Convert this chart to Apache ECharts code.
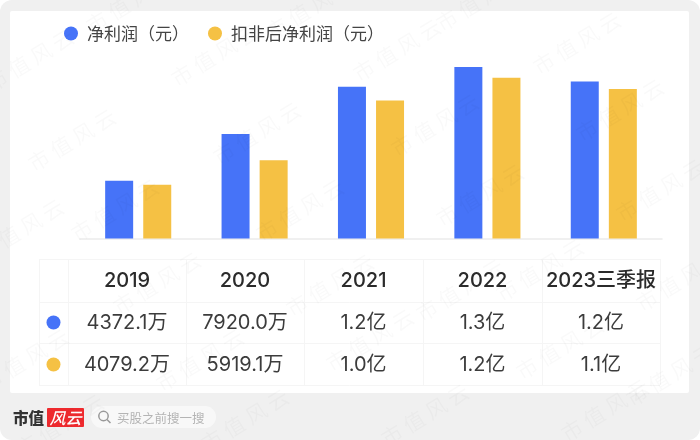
<!DOCTYPE html>
<html><head><meta charset="utf-8">
<style>html,body{margin:0;padding:0;background:#fff}#c{width:700px;height:440px}</style>
<script src="https://cdn.jsdelivr.net/npm/echarts@6/dist/echarts.min.js"></script>
</head><body><div id="c"></div>
<script>
const categories = ['2019','2020','2021','2022','2023三季报'];
const netProfitName = '净利润（元）';
const adjustedName = '扣非后净利润（元）';
const netProfit = [4372.1, 7920.0, 11500, 13000, 11900];
const adjustedProfit = [4079.2, 5919.1, 10460, 12170, 11330];
const netProfitLabels = ['4372.1万','7920.0万','1.2亿','1.3亿','1.2亿'];
const adjustedLabels = ['4079.2万','5919.1万','1.0亿','1.2亿','1.1亿'];
const watermarkText = '市 值 风 云';
const watermarkSpots = [[72,140],[215,55],[115,210],[257,133],[300,210],[397,50],[577,43],[435,125],[620,110],[480,195],[660,190],[130,2],[310,8],[480,0],[30,60],[157,283],[330,285],[25,360],[200,360],[560,348],[370,340],[540,270],[680,280],[425,415],[605,410],[245,420],[60,425],[20,230],[460,290],[670,375]];

const BLUE='#4673f8', YELLOW='#f5c144', FONT='Inter, "Noto Sans CJK SC", sans-serif', CJK='"Noto Sans CJK SC", sans-serif';
const colX=[39,68,186,304,423,542,660], rowY=[259,302,343,385];
const g=[];
g.push({type:'rect',z:-10,shape:{x:0,y:0,width:700,height:440,r:12},style:{fill:'#f0f0f0'}});
g.push({type:'rect',z:-9,shape:{x:10,y:11,width:679,height:382,r:2},style:{fill:'#fff'}});
const lc='#f5f5f5';
colX.forEach(x=>g.push({type:'line',z:1,shape:{x1:x+.5,y1:rowY[0],x2:x+.5,y2:rowY[3]},style:{stroke:lc,lineWidth:1}}));
rowY.forEach(y=>g.push({type:'line',z:1,shape:{x1:colX[0],y1:y+.5,x2:colX[6],y2:y+.5},style:{stroke:lc,lineWidth:1}}));
const cx=i=>(colX[i+1]+colX[i+2])/2;
categories.forEach((t,i)=>g.push({type:'text',z:2,style:{x:cx(i),y:281,text:t,align:'center',verticalAlign:'middle',font:'500 20px '+FONT,fill:'#2b2b2b'}}));
[[netProfitLabels,323,BLUE],[adjustedLabels,365,YELLOW]].forEach(([arr,y,col])=>{
  g.push({type:'circle',z:2,shape:{cx:53.5,cy:y-0.5,r:7},style:{fill:col}});
  arr.forEach((t,i)=>g.push({type:'text',z:2,style:{x:cx(i),y:y,text:t,align:'center',verticalAlign:'middle',font:'400 20px '+FONT,fill:'#3c3c3c'}}));
});
g.push({type:'text',z:2,style:{x:13,y:418,text:'市值',align:'left',verticalAlign:'middle',font:'900 15.5px '+CJK,fill:'#333'}});
g.push({type:'rect',z:2,shape:{x:47,y:408,width:37,height:19,r:1},style:{fill:'#ee2a2e'}});
g.push({type:'text',z:3,style:{x:65.5,y:417.5,text:'风云',align:'center',verticalAlign:'middle',font:'italic 500 16px '+CJK,fill:'#fff'}});
g.push({type:'rect',z:2,shape:{x:91,y:406,width:125,height:22,r:11},style:{fill:'#f8f8f8'}});
g.push({type:'circle',z:3,shape:{cx:103.5,cy:416,r:4.7},style:{fill:'none',stroke:'#999',lineWidth:1.5}});
g.push({type:'line',z:3,shape:{x1:107,y1:419.5,x2:110.5,y2:423},style:{stroke:'#999',lineWidth:1.5}});
g.push({type:'text',z:3,style:{x:117,y:418,text:'买股之前搜一搜',align:'left',verticalAlign:'middle',font:'400 12.5px '+CJK,fill:'#b4b4b4'}});
watermarkSpots.forEach(([x,y])=>g.push({type:'text',z:50,silent:true,x:x,y:y,rotation:0.55,style:{x:0,y:0,text:watermarkText,align:'center',verticalAlign:'middle',font:'400 21px '+CJK,fill:'rgba(0,0,0,0.022)'}}));

const chart=echarts.init(document.getElementById('c'),null,{renderer:'canvas'});
chart.setOption({
  animation:false,
  graphic:g,
  legend:{left:59,top:20,itemWidth:14,itemHeight:14,itemGap:19,icon:'circle',
    textStyle:{fontFamily:CJK,fontSize:17,color:'#444',padding:[0,0,0,4]},
    data:[netProfitName,adjustedName]},
  grid:{left:80,right:38,top:40.5,height:198},
  xAxis:{type:'category',data:categories,axisTick:{show:false},axisLabel:{show:false},axisLine:{lineStyle:{color:'#ececec',width:1.5}}},
  yAxis:{type:'value',min:0,max:15000,show:false},
  series:[
    {name:netProfitName,type:'bar',data:netProfit,barWidth:28,barGap:'36%',itemStyle:{color:BLUE}},
    {name:adjustedName,type:'bar',data:adjustedProfit,barWidth:28,barGap:'36%',itemStyle:{color:YELLOW}}
  ]
});
</script></body></html>
